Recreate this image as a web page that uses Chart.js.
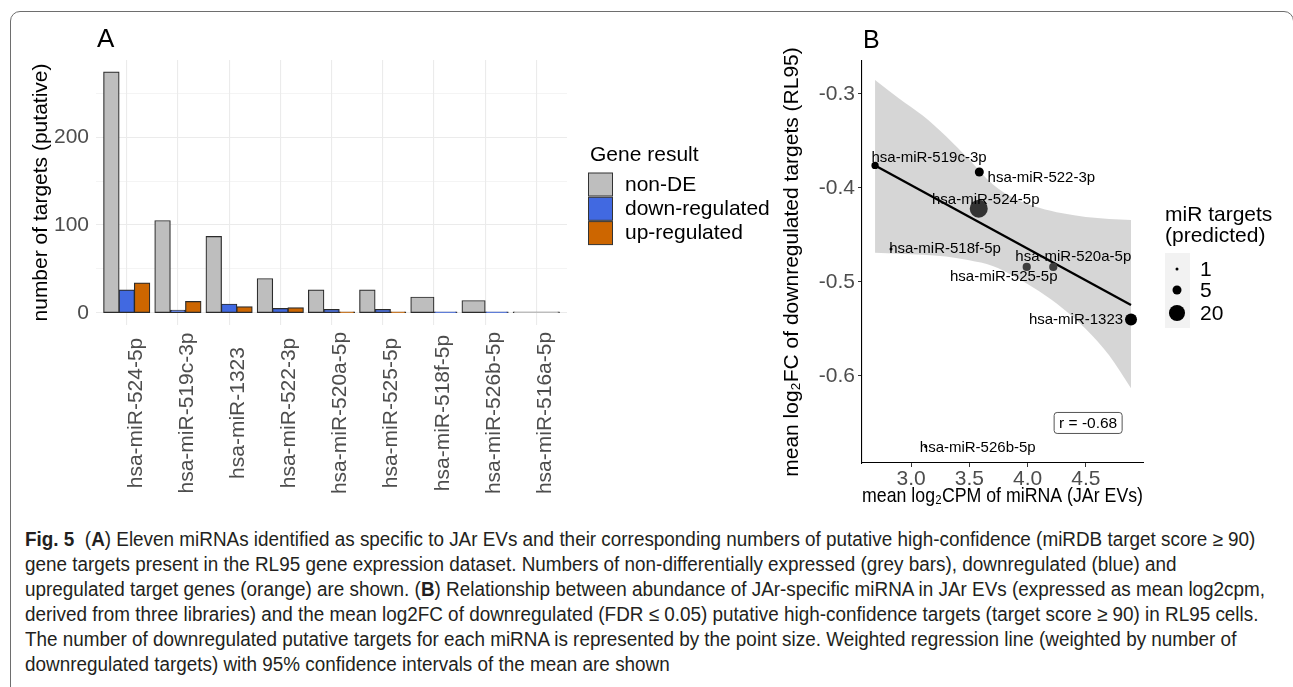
<!DOCTYPE html>
<html lang="en">
<head>
<meta charset="utf-8">
<title>Fig. 5 - JAr EV miRNA targets</title>
<script src="https://cdn.jsdelivr.net/npm/chart.js@4.4.1/dist/chart.umd.min.js"></script>
<style>
  html, body { margin: 0; padding: 0; background: #fff; width: 1293px; height: 687px; overflow: hidden; }
  .frame { position: absolute; left: 10px; top: 11px; width: 1284px; height: 700px; border: 1.5px solid #6e6e6e; border-radius: 10px; box-sizing: border-box; }
  #chartA { position: absolute; left: 0; top: 20px; }
  #chartB { position: absolute; left: 780px; top: 20px; }
  .caption { position: absolute; left: 25px; top: 527px; width: 1600px; font-family: "Liberation Sans", Arial, sans-serif; font-size: 20px; line-height: 25px; color: #231f20; }
  .caption div { white-space: nowrap; height: 25px; }
  .caption .line { display: inline-block; transform-origin: 0 50%; }
</style>
</head>
<body>
<div class="frame"></div>
<canvas id="chartA" width="780" height="480"></canvas>
<canvas id="chartB" width="510" height="495"></canvas>
<div class="caption" id="caption">
  <div><span class="line"><b>Fig. 5</b>&nbsp; (<b>A</b>) Eleven miRNAs identified as specific to JAr EVs and their corresponding numbers of putative high-confidence (miRDB target score ≥ 90)</span></div>
  <div><span class="line">gene targets present in the RL95 gene expression dataset. Numbers of non-differentially expressed (grey bars), downregulated (blue) and</span></div>
  <div><span class="line">upregulated target genes (orange) are shown. (<b>B</b>) Relationship between abundance of JAr-specific miRNA in JAr EVs (expressed as mean log2cpm,</span></div>
  <div><span class="line">derived from three libraries) and the mean log2FC of downregulated (FDR ≤ 0.05) putative high-confidence targets (target score ≥ 90) in RL95 cells.</span></div>
  <div><span class="line">The number of downregulated putative targets for each miRNA is represented by the point size. Weighted regression line (weighted by number of</span></div>
  <div><span class="line">downregulated targets) with 95% confidence intervals of the mean are shown</span></div>
</div>
<script>
// ---- Panel A: putative targets per miRNA ----
const categories = ['hsa-miR-524-5p', 'hsa-miR-519c-3p', 'hsa-miR-1323', 'hsa-miR-522-3p', 'hsa-miR-520a-5p',
                    'hsa-miR-525-5p', 'hsa-miR-518f-5p', 'hsa-miR-526b-5p', 'hsa-miR-516a-5p'];
const nonDE   = [274, 105, 87, 39, 26, 26, 18, 14, 1];
const downReg = [26, 3, 10, 5, 4, 4, 1, 1, null];
const upReg   = [34, 13, 7, 6, 1, 1, null, null, null];
const yGridA  = [0, 50, 100, 150, 200, 250];
const yTicksA = [0, 100, 200];

// ---- Panel B: abundance vs mean log2FC of downregulated targets ----
const mirNames    = ['hsa-miR-519c-3p', 'hsa-miR-522-3p', 'hsa-miR-524-5p', 'hsa-miR-518f-5p',
                     'hsa-miR-520a-5p', 'hsa-miR-525-5p', 'hsa-miR-1323', 'hsa-miR-526b-5p'];
const meanLogCPM  = [2.691, 3.586, 3.581, 2.828, 4.221, 3.993, 4.888, 3.126];
const meanLogFC   = [-0.376, -0.383, -0.422, -0.465, -0.484, -0.484, -0.540, -0.675];
const downTargets = [3, 5, 26, 1, 4, 4, 10, 1];
const fitX = [2.691, 4.888];
const fitY = [-0.376, -0.5245];
const bandX     = [2.691, 2.9, 3.1, 3.3, 3.5, 3.7, 3.9, 4.1, 4.3, 4.5, 4.7, 4.888];
const bandUpper = [-0.285, -0.305, -0.323, -0.345, -0.370, -0.396, -0.412, -0.421, -0.427, -0.431, -0.433, -0.434];
const bandLower = [-0.469, -0.470, -0.471, -0.473, -0.477, -0.483, -0.495, -0.510, -0.528, -0.550, -0.578, -0.613];
const xTicksB = [3.0, 3.5, 4.0, 4.5];
const yTicksB = [-0.6, -0.5, -0.4, -0.3];
const sizeBreaks = [1, 5, 20];
const corrLabel = 'r = -0.68';

const FONT = '"Liberation Sans", Arial, sans-serif';
Chart.defaults.font.family = FONT;

// point styling for panel B (ggplot-like grey shades, label nudges in px)
const pointShade = ['#000', '#000', '#333', '#000', '#3d3d3d', '#3d3d3d', '#000', '#000'];
const labelNudge = [[54, -8], [62, 6], [7, -9], [54, 0], [20, -10], [-23, 10], [-55, 0], [52, 1]];

// area-type size scale (like scale_size), domain 1..26
function pointRadius(n) {
    const size = 1 + 5 * Math.sqrt((n - 1) / 25);
    return 1.5 * size;
}

function toPoints(values) {
    return values.map((v, i) => ({ x: i, y: v }));
}

// Draws rotated category labels, panel letter and legend for A
const panelAExtras = {
    id: 'panelAExtras',
    afterDraw(chart) {
        const ctx = chart.ctx;
        const xScale = chart.scales.x;
        ctx.save();
        ctx.fillStyle = '#4d4d4d';
        ctx.font = '21px ' + FONT;
        ctx.textAlign = 'center';
        ctx.textBaseline = 'middle';
        categories.forEach((name, i) => {
            ctx.save();
            ctx.translate(xScale.getPixelForValue(i) + 9, 393);
            ctx.rotate(-Math.PI / 2);
            ctx.fillText(name, 0, 0);
            ctx.restore();
        });

        ctx.fillStyle = '#000';
        ctx.textAlign = 'left';
        ctx.textBaseline = 'alphabetic';
        ctx.font = '26px ' + FONT;
        ctx.fillText('A', 97, 27);

        // legend
        ctx.font = '21px ' + FONT;
        ctx.fillText('Gene result', 590, 141);
        chart.data.datasets.forEach((ds, k) => {
            const top = 153 + k * 24.3;
            ctx.fillStyle = ds.backgroundColor;
            ctx.fillRect(588.5, top, 24, 23);
            ctx.strokeStyle = '#333';
            ctx.lineWidth = 1;
            ctx.strokeRect(588.5, top, 24, 23);
            ctx.fillStyle = '#000';
            ctx.textBaseline = 'middle';
            ctx.fillText(ds.label, 625, top + 12);
        });
        ctx.restore();
    }
};

// Point labels, correlation box, size legend and panel letter for B
const panelBExtras = {
    id: 'panelBExtras',
    afterDatasetsDraw(chart) {
        const ctx = chart.ctx;
        const xs = chart.scales.x, ys = chart.scales.y;
        ctx.save();
        ctx.fillStyle = '#000';
        ctx.font = '15px ' + FONT;
        ctx.textAlign = 'center';
        ctx.textBaseline = 'middle';
        mirNames.forEach((name, i) => {
            const px = xs.getPixelForValue(meanLogCPM[i]) + labelNudge[i][0];
            const py = ys.getPixelForValue(meanLogFC[i]) + labelNudge[i][1];
            ctx.fillText(name, px, py);
        });

        // r label box
        const cx = xs.getPixelForValue(4.52), cy = ys.getPixelForValue(-0.65);
        ctx.beginPath();
        ctx.roundRect(cx - 34, cy - 10.5, 68, 21, 3);
        ctx.fillStyle = '#fff';
        ctx.fill();
        ctx.strokeStyle = '#555';
        ctx.lineWidth = 1;
        ctx.stroke();
        ctx.fillStyle = '#000';
        ctx.font = '15.5px ' + FONT;
        ctx.fillText(corrLabel, cx, cy + 1);
        ctx.restore();
    },
    afterDraw(chart) {
        const ctx = chart.ctx;
        ctx.save();
        ctx.fillStyle = '#000';
        ctx.font = '25px ' + FONT;
        ctx.textAlign = 'left';
        ctx.fillText('B', 83, 28);

        ctx.font = '21px ' + FONT;
        ctx.fillText('miR targets', 385, 201);
        ctx.fillText('(predicted)', 385, 222);
        ctx.fillStyle = '#f2f2f2';
        ctx.fillRect(385, 233, 25, 75);
        const rows = [249, 270, 293];
        sizeBreaks.forEach((n, k) => {
            ctx.fillStyle = '#000';
            ctx.beginPath();
            ctx.arc(397, rows[k], pointRadius(n), 0, Math.PI * 2);
            ctx.fill();
            ctx.textBaseline = 'middle';
            ctx.fillText(String(n), 420, rows[k] + 1);
        });
        ctx.restore();
    }
};

function createBarChart() {
    const barStyle = { borderColor: '#2b2b2b', borderWidth: 1.2, borderSkipped: false, inflateAmount: 0.5,
                       categoryPercentage: 0.9, barPercentage: 1.0, skipNull: true };
    new Chart(document.getElementById('chartA'), {
        type: 'bar',
        data: {
            datasets: [
                { label: 'non-DE', data: toPoints(nonDE), backgroundColor: '#bebebe', ...barStyle },
                { label: 'down-regulated', data: toPoints(downReg), backgroundColor: '#4169e1', ...barStyle },
                { label: 'up-regulated', data: toPoints(upReg), backgroundColor: '#cd6600', ...barStyle }
            ]
        },
        options: {
            responsive: false,
            animation: false,
            devicePixelRatio: 1,
            layout: { padding: { left: 0, top: 40, right: 213, bottom: 0 } },
            plugins: { legend: { display: false }, tooltip: { enabled: false } },
            scales: {
                x: {
                    type: 'linear', min: -0.6, max: categories.length - 0.4, offset: false,
                    afterBuildTicks: s => { s.ticks = categories.map((c, i) => ({ value: i })); },
                    afterFit: s => { s.height = 175; },
                    grid: { color: '#ebebeb', lineWidth: 1.1, drawTicks: false, offset: false },
                    border: { display: false },
                    ticks: { display: false }
                },
                y: {
                    min: -13.7, max: 287.7,
                    afterBuildTicks: s => { s.ticks = yGridA.map(v => ({ value: v })); },
                    afterFit: s => { s.width = 96; },
                    grid: {
                        color: '#ebebeb', drawTicks: false,
                        lineWidth: c => (c.tick && yTicksA.includes(c.tick.value)) ? 1.1 : 0.55
                    },
                    border: { display: false },
                    ticks: { padding: 7, color: '#4d4d4d', font: { size: 21 },
                             callback: v => yTicksA.includes(v) ? String(v) : '' },
                    title: { display: true, text: 'number of targets (putative)', color: '#000',
                             font: { size: 21 }, padding: { top: 29, bottom: 0 } }
                }
            }
        },
        plugins: [panelAExtras]
    });
}

function createScatterChart() {
    const noLine = 'rgba(0,0,0,0)';
    new Chart(document.getElementById('chartB'), {
        type: 'scatter',
        data: {
            datasets: [
                {
                    label: 'miRNA',
                    data: meanLogCPM.map((x, i) => ({ x: x, y: meanLogFC[i] })),
                    pointRadius: c => pointRadius(downTargets[c.dataIndex]),
                    pointBackgroundColor: c => pointShade[c.dataIndex],
                    pointBorderWidth: 0
                },
                {
                    label: 'fit',
                    data: fitX.map((x, i) => ({ x: x, y: fitY[i] })),
                    showLine: true, borderColor: '#000', borderWidth: 2.3, pointRadius: 0
                },
                {
                    label: 'upper',
                    data: bandX.map((x, i) => ({ x: x, y: bandUpper[i] })),
                    showLine: true, borderColor: noLine, borderWidth: 0, pointRadius: 0,
                    cubicInterpolationMode: 'monotone', fill: false
                },
                {
                    label: 'lower',
                    data: bandX.map((x, i) => ({ x: x, y: bandLower[i] })),
                    showLine: true, borderColor: noLine, borderWidth: 0, pointRadius: 0,
                    cubicInterpolationMode: 'monotone', fill: '-1',
                    backgroundColor: 'rgba(153,153,153,0.4)'
                }
            ]
        },
        options: {
            responsive: false,
            animation: false,
            devicePixelRatio: 1,
            layout: { padding: { left: 0, top: 41, right: 147, bottom: 0 } },
            plugins: { legend: { display: false }, tooltip: { enabled: false } },
            scales: {
                x: {
                    type: 'linear', min: 2.579, max: 4.991,
                    afterBuildTicks: s => { s.ticks = xTicksB.map(v => ({ value: v })); },
                    afterFit: s => { s.height = 52; },
                    grid: { drawOnChartArea: false, drawTicks: true, tickLength: 4, color: '#333' },
                    border: { display: true, color: '#000', width: 1.1 },
                    ticks: { padding: 0, color: '#4d4d4d', font: { size: 21 }, callback: v => v.toFixed(1) },
                    title: { display: true, text: 'mean log₂CPM of miRNA (JAr EVs)', color: '#000',
                             font: { size: 21 }, padding: { top: 0, bottom: 6 } }
                },
                y: {
                    type: 'linear', min: -0.6926, max: -0.2649,
                    afterBuildTicks: s => { s.ticks = yTicksB.map(v => ({ value: v })); },
                    afterFit: s => { s.width = 82; },
                    grid: { drawOnChartArea: false, drawTicks: true, tickLength: 4, color: '#333' },
                    border: { display: true, color: '#000', width: 1.1 },
                    ticks: { padding: 3, color: '#4d4d4d', font: { size: 21 }, callback: v => v.toFixed(1) },
                    title: { display: true, text: 'mean log₂FC of downregulated targets (RL95)', color: '#000',
                             font: { size: 21 }, padding: { top: 0, bottom: 0 } }
                }
            }
        },
        plugins: [panelBExtras]
    });
}

// squeeze caption lines horizontally (condensed look) so the widest spans the figure
function fitCaption() {
    const lines = document.querySelectorAll('#caption span.line');
    let widest = 0;
    lines.forEach(l => { widest = Math.max(widest, l.getBoundingClientRect().width); });
    if (widest > 0) {
        const k = 1240 / widest;
        lines.forEach(l => { l.style.transform = 'scaleX(' + k.toFixed(4) + ')'; });
    }
}

createBarChart();
createScatterChart();
fitCaption();
</script>
</body>
</html>
